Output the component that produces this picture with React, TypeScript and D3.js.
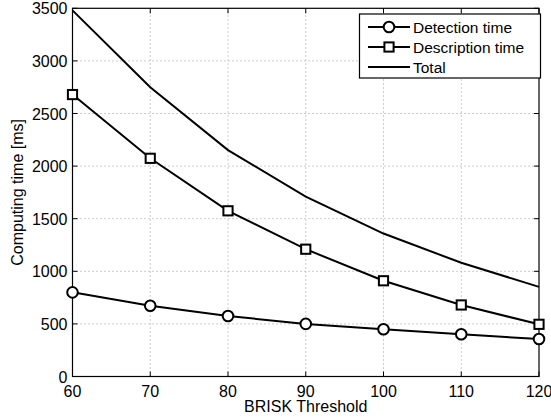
import { useEffect, useRef } from "react";
import * as d3 from "d3";

const thresholds = [60, 70, 80, 90, 100, 110, 120];
const detectionTime = [800, 673, 575, 500, 449, 401, 356];
const descriptionTime = [2680, 2074, 1575, 1210, 910, 680, 496];
const totalTime = [3480, 2750, 2152, 1710, 1359, 1081, 852];
const xTicks = [60, 70, 80, 90, 100, 110, 120];
const yTicks = [0, 500, 1000, 1500, 2000, 2500, 3000, 3500];

const W = 551;
const H = 419;
const M = { left: 72.5, right: 12, top: 8.3, bottom: 42.5 };
const FONT = "'Liberation Sans', Arial, sans-serif";

const App = () => {
  const svgRef = useRef<SVGSVGElement>(null);

  useEffect(() => {
    const svg = d3.select(svgRef.current);
    svg.selectAll("*").remove();

    const x = d3.scaleLinear().domain([60, 120]).range([M.left, W - M.right]);
    const y = d3.scaleLinear().domain([0, 3500]).range([H - M.bottom, M.top]);
    const [x0, x1] = x.range();
    const [y0, y1] = y.range();

    svg.append("rect").attr("x", x0).attr("y", y1)
      .attr("width", x1 - x0).attr("height", y0 - y1).attr("fill", "white");

    // grid
    const grid = svg.append("g").attr("stroke", "#999").attr("stroke-width", 1)
      .attr("stroke-dasharray", "1,3");
    grid.selectAll(".gx").data(xTicks.slice(1, -1)).enter().append("line")
      .attr("x1", d => x(d)).attr("x2", d => x(d)).attr("y1", y0).attr("y2", y1);
    grid.selectAll(".gy").data(yTicks.slice(1, -1)).enter().append("line")
      .attr("y1", d => y(d)).attr("y2", d => y(d)).attr("x1", x0).attr("x2", x1);

    // inward ticks on all sides
    const ticks = svg.append("g").attr("stroke", "black").attr("stroke-width", 1);
    xTicks.forEach(t => {
      ticks.append("line").attr("x1", x(t)).attr("x2", x(t)).attr("y1", y0).attr("y2", y0 - 5);
      ticks.append("line").attr("x1", x(t)).attr("x2", x(t)).attr("y1", y1).attr("y2", y1 + 5);
    });
    yTicks.forEach(t => {
      ticks.append("line").attr("y1", y(t)).attr("y2", y(t)).attr("x1", x0).attr("x2", x0 + 5);
      ticks.append("line").attr("y1", y(t)).attr("y2", y(t)).attr("x1", x1).attr("x2", x1 - 5);
    });

    svg.append("rect").attr("x", x0).attr("y", y1)
      .attr("width", x1 - x0).attr("height", y0 - y1)
      .attr("fill", "none").attr("stroke", "black").attr("stroke-width", 1.2);

    // tick labels
    svg.append("g").selectAll("text").data(xTicks).enter().append("text")
      .attr("x", d => x(d)).attr("y", y0 + 20)
      .attr("text-anchor", "middle").attr("font-family", FONT).attr("font-size", 16)
      .text(d => d);
    svg.append("g").selectAll("text").data(yTicks).enter().append("text")
      .attr("x", x0 - 5).attr("y", d => y(d) + 6)
      .attr("text-anchor", "end").attr("font-family", FONT).attr("font-size", 16)
      .text(d => d);

    svg.append("text").attr("x", (x0 + x1) / 2).attr("y", H - 7)
      .attr("text-anchor", "middle").attr("font-family", FONT).attr("font-size", 16)
      .text("BRISK Threshold");
    svg.append("text")
      .attr("transform", `translate(23, ${(y0 + y1) / 2}) rotate(-90)`)
      .attr("text-anchor", "middle").attr("font-family", FONT).attr("font-size", 16)
      .text("Computing time [ms]");

    const line = d3.line<number>().x((_, i) => x(thresholds[i])).y(d => y(d));
    const series = [
      { values: detectionTime, marker: "circle" },
      { values: descriptionTime, marker: "square" },
      { values: totalTime, marker: "none" },
    ];

    series.forEach(s => {
      svg.append("path").datum(s.values).attr("d", line)
        .attr("fill", "none").attr("stroke", "black").attr("stroke-width", 2);
    });

    const drawMarker = (g: any, kind: string, cx: number, cy: number) => {
      if (kind === "circle") {
        g.append("circle").attr("cx", cx).attr("cy", cy).attr("r", 5.3)
          .attr("fill", "white").attr("stroke", "black").attr("stroke-width", 2);
      } else if (kind === "square") {
        g.append("rect").attr("x", cx - 4.6).attr("y", cy - 4.6)
          .attr("width", 9.2).attr("height", 9.2)
          .attr("fill", "white").attr("stroke", "black").attr("stroke-width", 2);
      }
    };

    const markers = svg.append("g");
    series.forEach(s => {
      s.values.forEach((v, i) => drawMarker(markers, s.marker, x(thresholds[i]), y(v)));
    });

    // legend
    const labels = ["Detection time", "Description time", "Total"];
    const lg = svg.append("g");
    lg.append("rect").attr("x", 359.5).attr("y", 14).attr("width", 181).attr("height", 64)
      .attr("fill", "white").attr("stroke", "black").attr("stroke-width", 1.2);
    series.forEach((s, i) => {
      const ly = 27 + i * 20;
      lg.append("line").attr("x1", 368).attr("x2", 410).attr("y1", ly).attr("y2", ly)
        .attr("stroke", "black").attr("stroke-width", 2);
      drawMarker(lg, s.marker, 389, ly);
      lg.append("text").attr("x", 413).attr("y", ly + 5.5)
        .attr("font-family", FONT).attr("font-size", 15.5).text(labels[i]);
    });
  }, []);

  return (
    <div style={{ position: "absolute", left: 0, top: 0 }}>
      <svg ref={svgRef} width={W} height={H} style={{ display: "block", background: "white" }} />
    </div>
  );
};

export default App;
